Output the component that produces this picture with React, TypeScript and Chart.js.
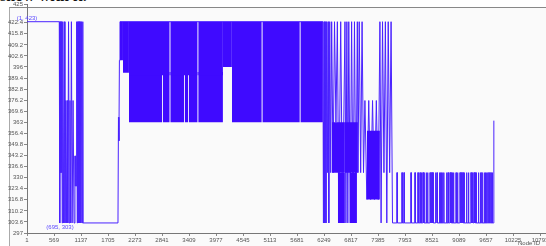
import React, { useEffect, useRef } from "react";
import { Chart, registerables } from "chart.js";

Chart.register(...registerables);

// ---- axis ticks ----
const xTicks = [1, 569, 1137, 1705, 2273, 2841, 3409, 3977, 4545, 5113, 5681, 6249, 6817, 7385, 7953, 8521, 9089, 9657, 10225, 10793];
const yTicks = [297, 303.6, 310.2, 316.8, 323.4, 330, 336.6, 343.2, 349.8, 356.4, 363, 369.6, 376.2, 382.8, 389.4, 396, 402.6, 409.2, 415.8, 422.4];
const yTopLabel = "425";
const X_MIN = 1;
const X_MAX = 10919;
const Y_MIN = 297;
const Y_MAX = 433.2;

// ---- sparse trace, [node, value] ----
const startTrace: number[][] = [
  [1, 423], [680, 423], [685, 333], [690, 423], [695, 303], [700, 423], [705, 333], [710, 423], [716, 333],
  [722, 423], [728, 333], [734, 423], [742, 303], [752, 423], [768, 303], [785, 423], [800, 303], [815, 376],
  [830, 303], [845, 376], [860, 303], [875, 423], [890, 303], [905, 376], [920, 303], [935, 423], [950, 303],
  [970, 376], [990, 303], [1010, 343], [1015, 325], [1020, 343], [1025, 325], [1030, 343], [1035, 325],
  [1040, 343], [1045, 325], [1052, 423], [1058, 303], [1064, 423], [1070, 303], [1076, 423], [1082, 303],
  [1088, 423], [1094, 303], [1100, 423], [1110, 303], [1120, 423], [1135, 303], [1150, 423], [1165, 303],
  [1175, 423], [1180, 303], [1915, 303], [1925, 366], [1935, 352], [1945, 400], [1957, 423], [6226, 423],
];

const midTrace: number[][] = [
  [6232, 363], [6238, 303], [6250, 423], [6262, 303], [6275, 423], [6290, 303], [6305, 423], [6320, 333],
  [6335, 423], [6350, 303], [6370, 423], [6390, 333], [6410, 423], [6440, 333], [6470, 423], [6500, 363],
  [6530, 423], [6560, 303], [6600, 423], [6640, 303], [6690, 423], [6710, 303], [6730, 423], [6750, 303],
  [6770, 423], [6800, 303], [6830, 423], [6860, 303], [6890, 423], [6920, 303], [6950, 423], [6965, 333],
  [6990, 423], [7020, 333], [7050, 423], [7080, 333], [7110, 376], [7150, 317], [7190, 376], [7230, 317],
  [7270, 376], [7310, 317], [7350, 376], [7390, 317], [7425, 423], [7450, 303], [7480, 423], [7510, 333],
  [7540, 423], [7570, 303], [7600, 423], [7630, 333], [7660, 423], [7690, 303],
];

// spikes of the low plateau (303 -> 333)
const LOW_BASE = 303;
const LOW_TOP = 333;
const lowSpikeNodes = [
  7786, 7891, 7933, 8080, 8164, 8227, 8270, 8300, 8330, 8350, 8400, 8430, 8480, 8500, 8520, 8545, 8600, 8630,
  8680, 8700, 8720, 8745, 8770, 8830, 8860, 8900, 8925, 8950, 8975, 9030, 9060, 9110, 9130, 9150, 9175, 9200,
  9250, 9290, 9340, 9360, 9380, 9405, 9430, 9455, 9500, 9540, 9570, 9620, 9645, 9670, 9695, 9720, 9760, 9790,
];

const endTrace: number[][] = [[9815, 303], [9822, 364]];

// dense oscillation envelopes: start, end, low, high
const bandStart = [
  1957, 2020,
  2146, 3015, 3603,
  2146, 2857, 3015, 3322, 3407, 3603,
  4123,
  4312, 4952, 5752,
  6415, 6541, 6689, 6794, 7151,
];
const bandEnd = [
  2020, 2146,
  3003, 3591, 4123,
  2845, 3003, 3310, 3395, 3591, 4123,
  4312,
  4940, 5740, 6226,
  6689, 6689, 6962, 6941, 7425,
];
const bandLow = [
  400, 392.5,
  391, 391, 391,
  363, 363, 363, 363, 363, 363,
  396,
  363, 363, 363,
  333, 303, 333, 303, 317,
];
const bandHigh = [
  423, 423,
  423, 423, 423,
  393, 393, 393, 393, 393, 393,
  423,
  423, 423, 423,
  363, 333, 363, 333, 358,
];

const annotations = [
  { node: 1, value: 423, text: "(1, 423)", above: true },
  { node: 695, value: 303, text: "(695, 303)", above: false },
];

const LINE_COLOR = "#4a22ff";
const FILL_COLOR = "#3f0aff";
const FONT = '"Liberation Sans", Arial, sans-serif';

const annotPlugin = {
  id: "annot",
  afterDatasetsDraw(chart: any) {
    const { ctx, scales } = chart;
    const x = scales.x;
    const y = scales.y;
    ctx.save();
    ctx.font = `6px ${FONT}`;
    ctx.fillStyle = "#5b48ff";
    ctx.textAlign = "center";
    annotations.forEach((a) => {
      const px = x.getPixelForValue(a.node);
      const py = y.getPixelForValue(a.value);
      if (a.above) {
        ctx.textBaseline = "bottom";
        ctx.fillText(a.text, px, py);
      } else {
        ctx.textBaseline = "top";
        ctx.fillText(a.text, px, py + 1);
      }
    });
    ctx.restore();
  },
};

export default function App() {
  const ref = useRef<HTMLCanvasElement | null>(null);

  useEffect(() => {
    if (!ref.current) return;
    const trace: { x: number; y: number }[] = [];
    startTrace.forEach(([n, v]) => trace.push({ x: n, y: v }));
    midTrace.forEach(([n, v]) => trace.push({ x: n, y: v }));
    lowSpikeNodes.forEach((n) => {
      trace.push({ x: n - 5, y: LOW_BASE }, { x: n - 3, y: LOW_TOP }, { x: n + 3, y: LOW_TOP }, { x: n + 5, y: LOW_BASE });
    });
    endTrace.forEach(([n, v]) => trace.push({ x: n, y: v }));

    const bandSets = bandStart.map((s, i) => ({
      data: [
        { x: s, y: bandHigh[i] },
        { x: bandEnd[i], y: bandHigh[i] },
      ],
      borderWidth: 0,
      pointRadius: 0,
      backgroundColor: FILL_COLOR,
      borderColor: FILL_COLOR,
      fill: { value: bandLow[i] },
    }));

    const chart = new Chart(ref.current, {
      type: "line",
      data: {
        datasets: [
          ...bandSets,
          {
            data: trace,
            borderColor: LINE_COLOR,
            borderWidth: 1,
            pointRadius: 0,
            tension: 0,
            fill: false,
          },
        ] as any,
      },
      options: {
        animation: false,
        responsive: false,
        devicePixelRatio: 1,
        layout: { padding: { left: 0, top: 0, right: 24, bottom: 0 } },
        plugins: { legend: { display: false }, tooltip: { enabled: false } },
        scales: {
          x: {
            type: "linear",
            min: X_MIN,
            max: X_MAX,
            afterBuildTicks: (s: any) => {
              s.ticks = xTicks.map((v) => ({ value: v }));
            },
            afterFit: (s: any) => {
              s.height = 17;
            },
            ticks: {
              autoSkip: false,
              maxRotation: 0,
              padding: 1,
              color: "#555",
              font: { size: 6, family: FONT },
              callback: (v: any) => String(v),
            },
            grid: { drawOnChartArea: false, drawTicks: true, tickLength: 3, color: "#888" },
            border: { display: true, color: "#777" },
          },
          y: {
            type: "linear",
            min: Y_MIN,
            max: Y_MAX,
            afterBuildTicks: (s: any) => {
              s.ticks = [...yTicks, Y_MAX].map((v) => ({ value: v }));
            },
            afterFit: (s: any) => {
              s.width = 27;
            },
            ticks: {
              autoSkip: false,
              padding: 1,
              color: "#555",
              font: { size: 6, family: FONT },
              callback: (v: any) => (v === Y_MAX ? yTopLabel : String(v)),
            },
            grid: { drawOnChartArea: false, drawTicks: true, tickLength: 3, color: "#888" },
            border: { display: true, color: "#777" },
          },
        },
      },
      plugins: [annotPlugin],
    } as any);
    return () => chart.destroy();
  }, []);

  return (
    <div style={{ position: "fixed", left: 0, top: 0, right: 0, bottom: 0, overflow: "hidden", background: "#fff" }}>
      <div
        style={{
          position: "absolute",
          left: 0,
          top: -12,
          fontFamily: '"Liberation Serif", serif',
          fontWeight: "bold",
          fontSize: 16,
          lineHeight: "16px",
          color: "#111",
          whiteSpace: "nowrap",
        }}
      >
        show with it.
      </div>
      <div
        style={{
          position: "absolute",
          left: 9,
          top: 7,
          width: 620,
          height: 300,
          borderLeft: "1px solid #aaa",
          borderTop: "1px solid #888",
          background: "#fafafa",
        }}
      />
      <canvas ref={ref} width={570} height={250} style={{ position: "absolute", left: 0, top: 0, width: 570, height: 250 }} />
      <div
        style={{
          position: "absolute",
          left: 518,
          top: 240,
          fontFamily: FONT,
          fontSize: 6,
          color: "#555",
          whiteSpace: "nowrap",
        }}
      >
        Node ID
      </div>
    </div>
  );
}
